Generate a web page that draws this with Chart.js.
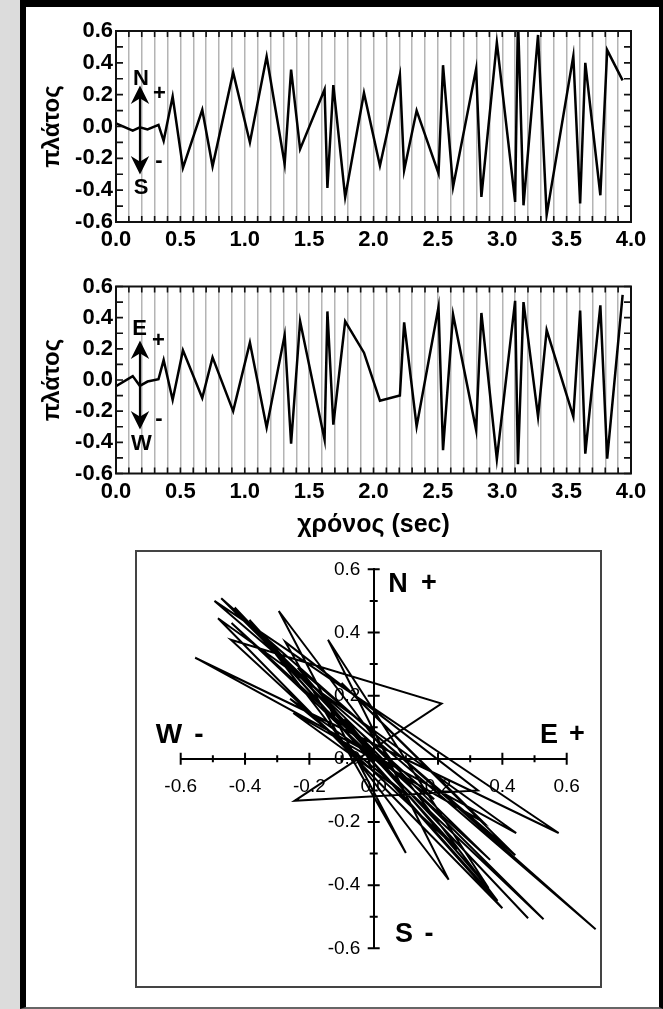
<!DOCTYPE html>
<html>
<head>
<meta charset="utf-8">
<script src="https://cdn.jsdelivr.net/npm/chart.js@4.4.1/dist/chart.umd.min.js"></script>
<style>
body { margin:0; width:663px; height:1009px; background:#dcdcdc; position:relative; overflow:hidden; font-family:"Liberation Sans", Arial, sans-serif; }
#marco { position:absolute; left:20px; top:0; width:643px; height:1009px; box-sizing:border-box; background:#fff;
         border-left:6px solid #000; border-top:7px solid #000; border-right:4px solid #000; border-bottom:2px solid #666; }
#cajaHodo { position:absolute; left:135px; top:550px; width:467px; height:438px; box-sizing:border-box; border:2px solid #444; }
canvas { position:absolute; }
.let { position:absolute; font-weight:bold; line-height:1; transform:translate(-50%,-50%); white-space:nowrap; color:#000; }
svg { position:absolute; left:0; top:0; }
</style>
</head>
<body>
<div id="marco"></div>
<div id="cajaHodo"></div>
<canvas id="serieNS" width="631" height="253" style="left:26px;top:7px"></canvas>
<canvas id="serieEW" width="631" height="282" style="left:26px;top:262px"></canvas>
<canvas id="hodograma" width="467" height="438" style="left:135px;top:550px"></canvas>

<svg width="663" height="1009">
  <g stroke="#000" stroke-width="2.2" fill="#000">
    <line x1="140" y1="94" x2="140" y2="166"/>
    <polygon points="140,88 146.5,101 140,97 133.5,101"/>
    <polygon points="140,172 146.5,159 140,163 133.5,159"/>
    <line x1="140" y1="349" x2="140" y2="421"/>
    <polygon points="140,343 146.5,356 140,352 133.5,356"/>
    <polygon points="140,427 146.5,414 140,418 133.5,414"/>
  </g>
</svg>

<span class="let" style="left:141px;top:78px;font-size:22px">N</span>
<span class="let" style="left:159.5px;top:93px;font-size:22px">+</span>
<span class="let" style="left:159px;top:160px;font-size:22px">-</span>
<span class="let" style="left:141px;top:187px;font-size:22px">S</span>

<span class="let" style="left:139.5px;top:328px;font-size:22px">E</span>
<span class="let" style="left:158.5px;top:340px;font-size:22px">+</span>
<span class="let" style="left:159px;top:418px;font-size:22px">-</span>
<span class="let" style="left:141.5px;top:443px;font-size:22px">W</span>

<span class="let" style="left:398px;top:583px;font-size:27px">N</span>
<span class="let" style="left:429px;top:582px;font-size:27px">+</span>
<span class="let" style="left:404px;top:933px;font-size:27px">S</span>
<span class="let" style="left:429px;top:933px;font-size:27px">-</span>
<span class="let" style="left:169px;top:734px;font-size:28px">W</span>
<span class="let" style="left:199px;top:734px;font-size:28px">-</span>
<span class="let" style="left:549px;top:734px;font-size:27px">E</span>
<span class="let" style="left:577px;top:733px;font-size:27px">+</span>

<script>
// tiempo (sec) de cada vértice, compartido por las dos componentes
const tiempo = [0, 0.13, 0.185, 0.245, 0.33, 0.37, 0.44, 0.52, 0.67, 0.75,
  0.91, 1.04, 1.17, 1.31, 1.36, 1.43, 1.62, 1.642, 1.688, 1.78,
  1.926, 2.05, 2.205, 2.238, 2.335, 2.505, 2.54, 2.618, 2.797, 2.838,
  2.958, 3.10, 3.122, 3.165, 3.278, 3.345, 3.552, 3.605, 3.645, 3.762,
  3.815, 3.935];

// componente N-S
const platosNS = [0.02, -0.026, -0.005, -0.018, 0.01, -0.09, 0.188, -0.26, 0.105, -0.25,
  0.34, -0.1, 0.44, -0.236, 0.357, -0.142, 0.233, -0.386, 0.26, -0.444,
  0.211, -0.246, 0.324, -0.275, 0.1, -0.295, 0.385, -0.38, 0.362, -0.442,
  0.528, -0.474, 0.69, -0.495, 0.575, -0.555, 0.443, -0.484, 0.40, -0.432,
  0.48, 0.29];

// componente E-W
const platosEW = [-0.04, 0.025, -0.037, -0.01, 0.005, 0.128, -0.128, 0.19, -0.116, 0.145,
  -0.2, 0.24, -0.305, 0.288, -0.409, 0.377, -0.383, 0.44, -0.286, 0.377,
  0.175, -0.133, -0.1, 0.37, -0.298, 0.468, -0.45, 0.42, -0.32, 0.43,
  -0.508, 0.508, -0.54, 0.50, -0.235, 0.32, -0.235, 0.445, -0.473, 0.479,
  -0.505, 0.547];

// hodógrafo: en la figura el eje horizontal lleva N-S y el vertical E-W (sin el último vértice)
const hodoX = platosNS.slice(0, -1);
const hodoY = platosEW.slice(0, -1);

const rangoAmp = [-0.6, 0.6];
const rangoTiempo = [0, 4];

Chart.defaults.font.family = '"Liberation Sans", Arial, sans-serif';
Chart.defaults.color = '#000';

var fmt = function(v) {
    return Math.abs(v) < 1e-9 ? '0.0' : v.toFixed(1);
}

var esMultiplo = function(v, paso) {
    const r = v / paso;
    return Math.abs(r - Math.round(r)) < 1e-6;
}

// marco del gráfico y marcas hacia dentro en los cuatro lados
const marcoTicks = {
    id: 'marcoTicks',
    afterDatasetsDraw(chart) {
        const {ctx, chartArea: a, scales} = chart;
        ctx.save();
        ctx.strokeStyle = '#111';
        ctx.lineWidth = 1.6;
        ctx.beginPath();
        scales.x.ticks.forEach(t => {
            const px = scales.x.getPixelForValue(t.value);
            ctx.moveTo(px, a.top); ctx.lineTo(px, a.top + 6);
            ctx.moveTo(px, a.bottom); ctx.lineTo(px, a.bottom - 6);
        });
        scales.y.ticks.forEach(t => {
            const py = scales.y.getPixelForValue(t.value);
            ctx.moveTo(a.left, py); ctx.lineTo(a.left + 7, py);
            ctx.moveTo(a.right, py); ctx.lineTo(a.right - 7, py);
        });
        ctx.stroke();
        ctx.lineWidth = 2;
        ctx.strokeRect(a.left, a.top, a.right - a.left, a.bottom - a.top);
        ctx.restore();
    }
};

var graficoSerie = function(id, datos, tituloX, padTop, altoX) {
    return new Chart(document.getElementById(id), {
        type: 'line',
        data: {
            datasets: [{
                data: tiempo.map((t, i) => ({x: t, y: datos[i]})),
                borderColor: '#000',
                borderWidth: 2.5,
                pointRadius: 0,
                tension: 0
            }]
        },
        options: {
            responsive: false,
            animation: false,
            layout: { padding: {left: 8, top: padTop, right: 26, bottom: 0} },
            plugins: { legend: {display: false}, tooltip: {enabled: false} },
            scales: {
                x: {
                    type: 'linear', min: rangoTiempo[0], max: rangoTiempo[1],
                    afterFit(s) { s.height = altoX; },
                    border: {display: false},
                    grid: {color: '#b4b4b4', lineWidth: 1.5, drawTicks: false},
                    ticks: {
                        stepSize: 0.1, autoSkip: false, maxRotation: 0, padding: 5,
                        font: {size: 22, weight: 'bold'},
                        callback: v => esMultiplo(v, 0.5) ? fmt(v) : ''
                    },
                    title: {display: tituloX, text: 'χρόνος (sec)', font: {size: 25, weight: 'bold'}}
                },
                y: {
                    min: rangoAmp[0], max: rangoAmp[1],
                    afterFit(s) { s.width = 82; },
                    border: {display: false},
                    grid: {drawOnChartArea: false, drawTicks: false},
                    ticks: {
                        stepSize: 0.1, autoSkip: false, padding: 3,
                        font: {size: 22, weight: 'bold'},
                        callback: v => esMultiplo(v, 0.2) ? fmt(v) : ''
                    },
                    title: {display: true, text: 'πλάτος', font: {size: 24, weight: 'bold'}}
                }
            }
        },
        plugins: [marcoTicks]
    });
}

// marcas que cruzan los ejes del hodógrafo
const marcasCruz = {
    id: 'marcasCruz',
    beforeDatasetsDraw(chart) {
        const {ctx, scales: {x, y}} = chart;
        const x0 = x.getPixelForValue(0), y0 = y.getPixelForValue(0);
        ctx.save();
        ctx.strokeStyle = '#000';
        ctx.lineWidth = 2;
        ctx.beginPath();
        x.ticks.forEach(t => {
            const l = esMultiplo(t.value, 0.2) ? 6 : 3.5;
            const px = x.getPixelForValue(t.value);
            ctx.moveTo(px, y0 - l); ctx.lineTo(px, y0 + l);
        });
        y.ticks.forEach(t => {
            const l = esMultiplo(t.value, 0.2) ? 6 : 4;
            const py = y.getPixelForValue(t.value);
            ctx.moveTo(x0 - l, py); ctx.lineTo(x0 + l, py);
        });
        ctx.stroke();
        ctx.restore();
    }
};

graficoSerie('serieNS', platosNS, false, 24, 38);
graficoSerie('serieEW', platosEW, true, 24.5, 70.5);

new Chart(document.getElementById('hodograma'), {
    type: 'scatter',
    data: {
        datasets: [{
            data: hodoX.map((v, i) => ({x: v, y: hodoY[i]})),
            showLine: true,
            borderColor: '#000',
            borderWidth: 2,
            pointRadius: 0,
            clip: false
        }]
    },
    options: {
        responsive: false,
        animation: false,
        layout: { padding: {left: 45.7, right: 35.3, top: 19.3, bottom: 39.7} },
        plugins: { legend: {display: false}, tooltip: {enabled: false} },
        scales: {
            x: {
                type: 'linear', position: {y: 0}, min: rangoAmp[0], max: rangoAmp[1],
                grid: {drawOnChartArea: false, drawTicks: false},
                border: {display: true, color: '#000', width: 2},
                ticks: {
                    stepSize: 0.1, autoSkip: false, maxRotation: 0, padding: 17,
                    font: {size: 19},
                    callback: v => esMultiplo(v, 0.2) ? fmt(v) : ''
                }
            },
            y: {
                type: 'linear', position: {x: 0}, min: rangoAmp[0], max: rangoAmp[1],
                grid: {drawOnChartArea: false, drawTicks: false},
                border: {display: true, color: '#000', width: 2},
                ticks: {
                    stepSize: 0.1, autoSkip: false,
                    font: {size: 19},
                    // el eje centrado no aplica padding: se separa con espacios
                    callback: v => esMultiplo(v, 0.2) ? fmt(v) + '\u2002\u2009' : ''
                }
            }
        }
    },
    plugins: [marcasCruz]
});
</script>
</body>
</html>
